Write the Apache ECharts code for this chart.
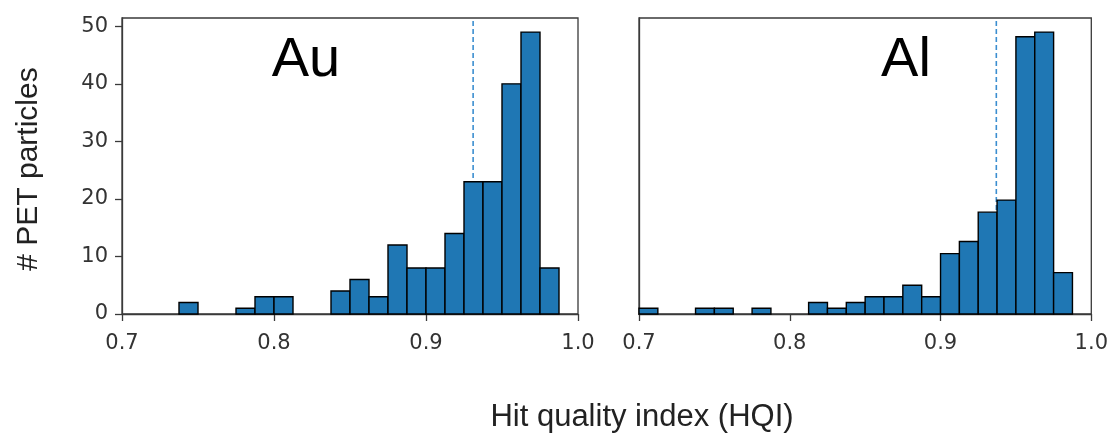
<!DOCTYPE html>
<html>
<head>
<meta charset="utf-8">
<style>
  html, body { margin: 0; padding: 0; background: #fff; }
  #chart { width: 1111px; height: 434px; }
</style>
<script src="https://cdn.jsdelivr.net/npm/echarts@6/dist/echarts.min.js"></script>
</head>
<body>
<div id="chart"></div>
<script>
// bin edges and counts
const auEdges = [0.7375, 0.75, 0.7625, 0.775, 0.7875, 0.8, 0.8125, 0.825, 0.8375, 0.85, 0.8625,
  0.875, 0.8875, 0.9, 0.9125, 0.925, 0.9375, 0.95, 0.9625, 0.975, 0.9875]
const auCounts = [2, 0, 0, 1, 3, 3, 0, 0, 4, 6, 3, 12, 8, 8, 14, 23, 23, 40, 49, 8]

const alEdges = [0.7, 0.7125, 0.725, 0.7375, 0.75, 0.7625, 0.775, 0.7875, 0.8, 0.8125, 0.825, 0.8375,
  0.85, 0.8625, 0.875, 0.8875, 0.9, 0.9125, 0.925, 0.9375, 0.95, 0.9625, 0.975, 0.9875]
const alCounts = [1, 0, 0, 1, 1, 0, 1, 0, 0, 2, 1, 2, 3, 3, 5, 3, 10.5, 12.6, 17.7, 19.8, 48.2, 49, 7.2]

const auThreshold = 0.931
const alThreshold = 0.937

const xTicks = [0.7, 0.8, 0.9, 1.0]
const yTicks = [0, 10, 20, 30, 40, 50]
const yMax = 51.45

function toBins (edges, counts) {
  const out = []
  counts.forEach((c, i) => {
    if (c > 0) out.push([edges[i], edges[i + 1], c])
  })
  return out
}

function renderBin (params, api) {
  const p0 = api.coord([api.value(0), api.value(2)])
  const p1 = api.coord([api.value(1), 0])
  return {
    type: 'rect',
    shape: { x: p0[0], y: p0[1], width: p1[0] - p0[0], height: p1[1] - p0[1] },
    style: { fill: '#1f77b4', stroke: '#000', lineWidth: 1.4 }
  }
}

const axisColor = '#3a3a3a'
const tickFont = {
  fontFamily: 'DejaVu Sans',
  fontSize: 21,
  color: '#333'
}

function xAxisFor (gridIndex) {
  return {
    type: 'value',
    gridIndex: gridIndex,
    min: xTicks[0],
    max: xTicks[xTicks.length - 1],
    interval: 0.1,
    axisLine: { show: true, onZero: false, lineStyle: { color: axisColor, width: 1.3 } },
    axisTick: { show: true, length: 7, lineStyle: { color: axisColor, width: 1.3 } },
    axisLabel: Object.assign({ margin: 19, formatter: v => v.toFixed(1) }, tickFont),
    splitLine: { show: false }
  }
}

function yAxisFor (gridIndex, showLabels) {
  return {
    type: 'value',
    gridIndex: gridIndex,
    min: yTicks[0],
    max: yMax,
    interval: 10,
    axisLine: { show: true, lineStyle: { color: axisColor, width: 1.3 } },
    axisTick: { show: showLabels, length: 7, lineStyle: { color: axisColor, width: 1.3 } },
    axisLabel: Object.assign({ show: showLabels, margin: 14 }, tickFont),
    splitLine: { show: false }
  }
}

function thresholdLine (idx, x) {
  return {
    type: 'line',
    xAxisIndex: idx,
    yAxisIndex: idx,
    z: 1,
    symbol: 'none',
    silent: true,
    lineStyle: { color: '#3b8ed0', width: 1.6, type: [5, 3] },
    data: [[x, 0], [x, yMax]]
  }
}

const labelFont = '"Liberation Sans", Arial, sans-serif'

const chart = echarts.init(document.getElementById('chart'))
const option = {
  animation: false,
  backgroundColor: '#fff',
  grid: [
    { left: 122, top: 18, width: 456, height: 296, show: true, borderColor: axisColor, borderWidth: 1.3 },
    { left: 639, top: 18, width: 454, height: 296, show: true, borderColor: axisColor, borderWidth: 1.3 }
  ],
  xAxis: [xAxisFor(0), xAxisFor(1)],
  yAxis: [yAxisFor(0, true), yAxisFor(1, false)],
  graphic: [
    {
      type: 'text', x: 306, y: 61,
      style: { text: 'Au', align: 'center', verticalAlign: 'middle', font: '56px ' + labelFont, fill: '#000' }
    },
    {
      type: 'text', x: 906, y: 61,
      style: { text: 'Al', align: 'center', verticalAlign: 'middle', font: '56px ' + labelFont, fill: '#000' }
    },
    {
      type: 'text', x: 642, y: 417,
      style: { text: 'Hit quality index (HQI)', align: 'center', verticalAlign: 'middle', font: '31px ' + labelFont, fill: '#222' }
    },
    {
      type: 'text', x: 29, y: 169, rotation: Math.PI / 2,
      style: { text: '# PET particles', align: 'center', verticalAlign: 'middle', font: '30px ' + labelFont, fill: '#222' }
    }
  ],
  series: [
    thresholdLine(0, auThreshold),
    thresholdLine(1, alThreshold),
    {
      type: 'custom',
      xAxisIndex: 0,
      yAxisIndex: 0,
      z: 2,
      renderItem: renderBin,
      encode: { x: [0, 1], y: 2 },
      data: toBins(auEdges, auCounts)
    },
    {
      type: 'custom',
      xAxisIndex: 1,
      yAxisIndex: 1,
      z: 2,
      renderItem: renderBin,
      encode: { x: [0, 1], y: 2 },
      data: toBins(alEdges, alCounts)
    }
  ]
}
chart.setOption(option)
window.addEventListener('resize', () => chart.resize())
</script>
</body>
</html>
